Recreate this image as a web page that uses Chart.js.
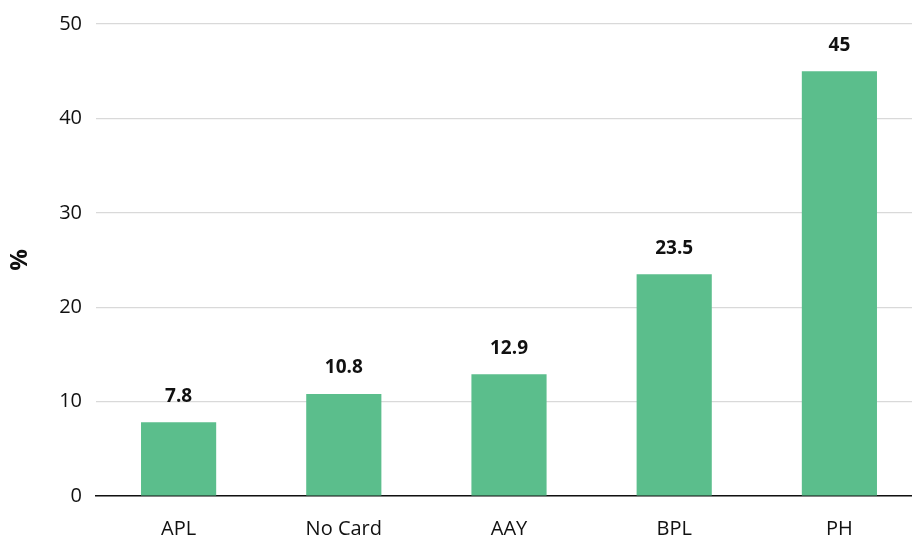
<!DOCTYPE html>
<html>
<head>
<meta charset="utf-8">
<script src="https://cdn.jsdelivr.net/npm/chart.js@4"></script>
<style>
  html, body { margin: 0; padding: 0; background: #fff; overflow: hidden; }
  #wrap { width: 922px; height: 536px; }
</style>
</head>
<body>
<div id="wrap"><canvas id="myGraph" width="922" height="536"></canvas></div>
<script>
const categories = ['APL', 'No Card', 'AAY', 'BPL', 'PH'];
const shareValues = [7.8, 10.8, 12.9, 23.5, 45];
const yTicks = [0, 10, 20, 30, 40, 50];

const fontFam = "'Open Sans', 'Noto Sans', sans-serif";

// etiquetas encima de cada barra
const barLabels = {
    id: 'barLabels',
    afterDatasetsDraw(chart) {
        const ctx = chart.ctx;
        const meta = chart.getDatasetMeta(0);
        ctx.save();
        ctx.font = 'bold 19px ' + fontFam;
        ctx.fillStyle = '#111';
        ctx.textAlign = 'center';
        ctx.textBaseline = 'middle';
        meta.data.forEach((bar, i) => {
            ctx.fillText(String(shareValues[i]), bar.x, bar.y - 26);
        });
        ctx.restore();
    }
};

const ctx = document.getElementById('myGraph').getContext('2d');
const myGraph = new Chart(ctx, {
    type: 'bar',
    data: {
        labels: categories,
        datasets: [{
            data: shareValues,
            backgroundColor: '#5bbe8c',
            categoryPercentage: 1,
            barPercentage: 0.455
        }]
    },
    options: {
        responsive: false,
        animation: false,
        layout: { padding: { top: 23, right: 0, left: 0, bottom: 0 } },
        plugins: { legend: { display: false }, tooltip: { enabled: false } },
        scales: {
            x: {
                grid: { display: false },
                border: { color: '#111', width: 1.5 },
                ticks: { color: '#111', font: { family: fontFam, size: 20 }, padding: 13 },
                afterFit(scale) { scale.height = 40; }
            },
            y: {
                min: 0,
                max: 50,
                afterBuildTicks(scale) { scale.ticks = yTicks.map(v => ({ value: v })); },
                grid: { color: '#d9d9d9', lineWidth: 1.2, drawTicks: false },
                border: { display: false },
                ticks: { color: '#111', font: { family: fontFam, size: 20, lineHeight: 1 }, padding: 14 },
                title: { display: true, text: '%', color: '#111', padding: { top: 6, bottom: 4 }, font: { family: fontFam, size: 24, weight: 'bold' } },
                afterFit(scale) { scale.width = 96; }
            }
        }
    },
    plugins: [barLabels]
});
</script>
</body>
</html>
